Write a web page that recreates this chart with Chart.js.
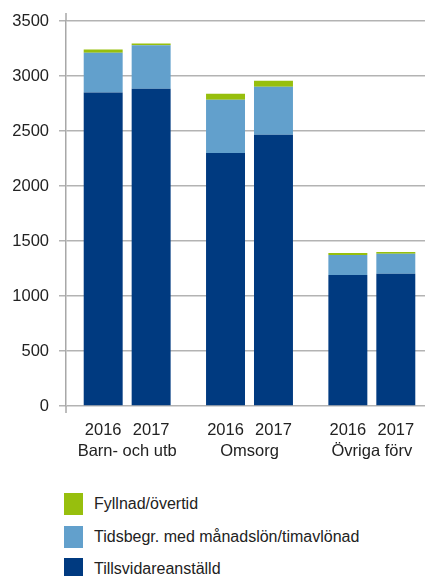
<!DOCTYPE html>
<html>
<head>
<meta charset="utf-8">
<script src="https://cdn.jsdelivr.net/npm/chart.js@4"></script>
<style>
  body { margin: 0; background: #fff; }
  #wrap { position: relative; width: 425px; height: 576px; overflow: hidden; }
  #chart { position: absolute; left: 0; top: 0; }
  #legend { position: absolute; left: 64px; top: 493px; font: 16px "Liberation Sans", Arial, sans-serif; color: #222; }
  .item { display: flex; align-items: center; height: 22px; margin-bottom: 10.5px; }
  .box { width: 19px; height: 22px; margin-right: 11px; }
</style>
</head>
<body>
<div id="wrap">
  <canvas id="chart" width="433" height="470"></canvas>
  <div id="legend"></div>
</div>
<script>
const grupper = ["Barn- och utb", "Omsorg", "Övriga förv"];
const ar = ["2016", "2017"];

// värden per grupp (Barn- och utb, Omsorg, Övriga förv)
const tillsvidare2016 = [2850, 2300, 1190];
const tillsvidare2017 = [2885, 2466, 1202];
const tidsbegr2016 = [362, 484, 182];
const tidsbegr2017 = [395, 437, 182];
const fyllnad2016 = [28, 55, 18];
const fyllnad2017 = [15, 54, 16];

const serier = ["Tillsvidareanställd", "Tidsbegr. med månadslön/timavlönad", "Fyllnad/övertid"];
const farger = ["#003A80", "#62A0CC", "#97BF0D"];

const FONT = '"Liberation Sans", Arial, sans-serif';

function ds(label, data, color, stack) {
  return {
    label: label,
    data: data,
    backgroundColor: color,
    stack: stack,
    categoryPercentage: 0.784,
    barPercentage: 0.8125
  };
}

const datasets = [
  ds(serier[0], tillsvidare2016, farger[0], ar[0]),
  ds(serier[1], tidsbegr2016, farger[1], ar[0]),
  ds(serier[2], fyllnad2016, farger[2], ar[0]),
  ds(serier[0], tillsvidare2017, farger[0], ar[1]),
  ds(serier[1], tidsbegr2017, farger[1], ar[1]),
  ds(serier[2], fyllnad2017, farger[2], ar[1])
];

// årtal under varje stapel + axellinjens förlängning
const arEtiketter = {
  id: 'arEtiketter',
  afterDraw(chart) {
    const ctx = chart.ctx;
    const area = chart.chartArea;
    ctx.save();
    ctx.strokeStyle = '#a8a8a8';
    ctx.lineWidth = 1.5;
    ctx.beginPath();
    ctx.moveTo(area.left, area.top - 8);
    ctx.lineTo(area.left, area.top);
    ctx.moveTo(area.left, area.bottom);
    ctx.lineTo(area.left, area.bottom + 7);
    ctx.stroke();

    ctx.font = '16.5px ' + FONT;
    ctx.fillStyle = '#222';
    ctx.textAlign = 'center';
    ctx.textBaseline = 'middle';
    [0, 3].forEach((idx, k) => {
      chart.getDatasetMeta(idx).data.forEach(bar => {
        ctx.fillText(ar[k], bar.x, area.bottom + 24);
      });
    });
    ctx.restore();
  }
};

new Chart(document.getElementById('chart'), {
  type: 'bar',
  data: { labels: grupper, datasets: datasets },
  options: {
    responsive: false,
    animation: false,
    layout: { padding: { top: 21, right: 0, left: 0, bottom: 0 } },
    plugins: { legend: { display: false }, tooltip: { enabled: false } },
    scales: {
      x: {
        stacked: true,
        grid: { display: false, drawTicks: false },
        border: { display: false },
        ticks: { color: '#222', font: { family: FONT, size: 16.5 }, padding: 36 },
        afterFit(scale) {
          scale.height = 470 - 406;
          scale.paddingLeft = 0;
          scale.paddingRight = 0;
        }
      },
      y: {
        stacked: true,
        min: 0,
        max: 3500,
        ticks: {
          stepSize: 500,
          color: '#222',
          font: { family: FONT, size: 16.5 },
          padding: 10,
          callback: v => String(v)
        },
        grid: { color: '#b3b3b3', lineWidth: 1.5, tickLength: 7 },
        border: { color: '#a8a8a8', width: 1.5 },
        afterFit(scale) { scale.width = 66; }
      }
    }
  },
  plugins: [arEtiketter]
});

// förklaring
const legend = document.getElementById('legend');
[2, 1, 0].forEach(i => {
  const item = document.createElement('div');
  item.className = 'item';
  item.innerHTML = '<div class="box" style="background:' + farger[i] + '"></div><span>' + serier[i] + '</span>';
  legend.appendChild(item);
});
</script>
</body>
</html>
